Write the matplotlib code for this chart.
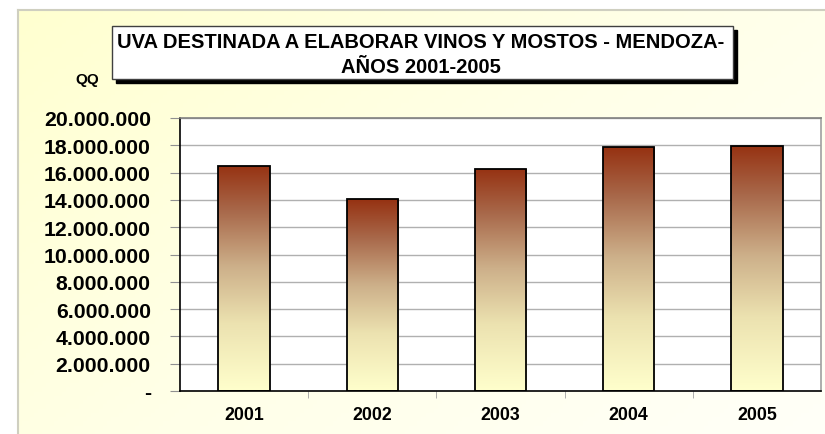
import matplotlib.pyplot as plt
import numpy as np
from matplotlib.colors import LinearSegmentedColormap
from matplotlib.patches import Rectangle

plt.rcParams['font.family'] = ['Liberation Sans', 'DejaVu Sans']
plt.rcParams['font.weight'] = 'bold'

years = ['2001', '2002', '2003', '2004', '2005']
qq = [16500000, 14050000, 16300000, 17850000, 17970000]
y_ticks = [0, 2000000, 4000000, 6000000, 8000000, 10000000,
           12000000, 14000000, 16000000, 18000000, 20000000]
title = "UVA DESTINADA A ELABORAR VINOS Y MOSTOS - MENDOZA-\nAÑOS 2001-2005"

W, H = 825, 435
fig = plt.figure(figsize=(W/100, H/100), dpi=100)

# pale yellow chart background
bg = fig.add_axes([18/W, 0, 1 - 18/W, 1 - 11/H])
bg_cmap = LinearSegmentedColormap.from_list('bg', ['#ffffd0', '#ffffe8', '#fffff8'])
gx, gy = np.meshgrid(np.linspace(0, 1, 200), np.linspace(0, 1, 100))
bg.imshow((gx*0.6 + gy*0.4), cmap=bg_cmap, aspect='auto', extent=[0, 1, 0, 1])
bg.set_xticks([])
bg.set_yticks([])
for s in ['bottom', 'right']:
    bg.spines[s].set_visible(False)
for s in ['left', 'top']:
    bg.spines[s].set_color('#cfcfc0')
    bg.spines[s].set_linewidth(1.5)

ax = fig.add_axes([180/W, 43/H, 641/W, 273/H])
ax.set_facecolor('white')
x = np.arange(len(years))
bars = ax.bar(x, qq, width=0.4, color='none', edgecolor='black', linewidth=1.3, zorder=3)

bar_cmap = LinearSegmentedColormap.from_list(
    'bar', [(0, '#ffffcc'), (0.3, '#ece2b0'), (0.55, '#cdb08a'), (0.8, '#a8684a'), (1, '#963212')])
grad = np.linspace(0, 1, 256).reshape(-1, 1)
for b in bars:
    bx, by = b.get_x(), b.get_y()
    im = ax.imshow(grad, cmap=bar_cmap, origin='lower', aspect='auto',
                   extent=[bx, bx + b.get_width(), by, by + b.get_height()], zorder=2)
    im.set_clip_path(b)

ax.set_xlim(-0.5, len(years) - 0.5)
ax.set_ylim(0, 20000000)
ax.set_yticks(y_ticks)
ax.set_yticklabels(['-' if v == 0 else f'{v:,}'.replace(',', '.') for v in y_ticks], fontsize=15.3)
ax.set_xticks(x)
ax.set_xticklabels(years, fontsize=12.8)
ax.set_xticks(x[:-1] + 0.5, minor=True)
ax.tick_params(axis='x', which='major', length=0, pad=11)
ax.tick_params(axis='x', which='minor', length=5, color='#a0a0a0', direction='out')
ax.tick_params(axis='y', length=7, color='#909090', pad=14)
ax.grid(axis='y', color='#b0b0b0', linewidth=1, zorder=0)
ax.set_axisbelow(True)
ax.spines['top'].set_color('#808080')
ax.spines['right'].set_color('#a0a0a0')
ax.spines['left'].set_color('black')
ax.spines['bottom'].set_color('black')
for s in ax.spines.values():
    s.set_linewidth(1.2)
ax.set_xlim(-0.5, len(years) - 0.5)

# title box with shadow
bx0, by0, bw, bh = 112/W, 1 - 80/H, 621/W, 53/H
fig.patches.append(Rectangle((bx0 + 4/W, by0 - 4/H), bw, bh, transform=fig.transFigure,
                             facecolor='black', edgecolor='black', zorder=5))
fig.patches.append(Rectangle((bx0, by0), bw, bh, transform=fig.transFigure,
                             facecolor='white', edgecolor='#404040', linewidth=1, zorder=6))
fig.text(421/W, 1 - 55/H, title, ha='center', va='center', fontsize=14.5,
         fontweight='bold', linespacing=1.4, zorder=7)
fig.text(87/W, 1 - 80/H, 'QQ', ha='center', va='center', fontsize=11, fontweight='bold')

fig.savefig('out.png', dpi=100)
